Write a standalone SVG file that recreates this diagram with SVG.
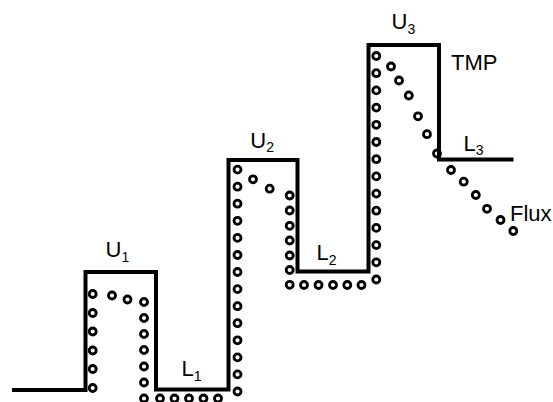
<svg xmlns="http://www.w3.org/2000/svg" width="553" height="402" viewBox="0 0 553 402">
<style>
.line{fill:none;stroke:#000;stroke-width:4;stroke-linejoin:miter;stroke-linecap:butt}
.p{fill:none;stroke:#000;stroke-width:2.8}
.t{font-family:"Liberation Sans",Arial,sans-serif;font-size:22px;fill:#000}
.s{font-size:14px}
</style>
<rect width="553" height="402" fill="#fff"/>
<g id="profile">
<path class="line" d="M12 390 H85.5 V272 H156 V389.5 H228.5 V160 H297.5 V271.5 H368.5 V45 H439 V159.5 H513.5"/>
</g>
<g id="particles">
<!-- U1 -->
<circle class="p" cx="92.7" cy="294" r="3.5"/>
<circle class="p" cx="92.7" cy="313" r="3.5"/>
<circle class="p" cx="92.7" cy="331.5" r="3.5"/>
<circle class="p" cx="92.7" cy="350.5" r="3.5"/>
<circle class="p" cx="92.7" cy="369" r="3.5"/>
<circle class="p" cx="92.7" cy="388" r="3.5"/>
<circle class="p" cx="112" cy="295.5" r="3.5"/>
<circle class="p" cx="127.5" cy="299.5" r="3.5"/>
<circle class="p" cx="144" cy="302" r="3.5"/>
<circle class="p" cx="144" cy="318" r="3.5"/>
<circle class="p" cx="144" cy="334" r="3.5"/>
<circle class="p" cx="144" cy="350" r="3.5"/>
<circle class="p" cx="144" cy="366.5" r="3.5"/>
<circle class="p" cx="144" cy="382.5" r="3.5"/>
<circle class="p" cx="144" cy="398.5" r="3.5"/>
<!-- L1 -->
<circle class="p" cx="160" cy="398.5" r="3.5"/>
<circle class="p" cx="174.5" cy="398.5" r="3.5"/>
<circle class="p" cx="189" cy="398.5" r="3.5"/>
<circle class="p" cx="203.5" cy="398.5" r="3.5"/>
<circle class="p" cx="218" cy="398.5" r="3.5"/>
<!-- U2 -->
<circle class="p" cx="237.5" cy="391.5" r="3.5"/>
<circle class="p" cx="237.5" cy="374.4" r="3.5"/>
<circle class="p" cx="237.5" cy="357.4" r="3.5"/>
<circle class="p" cx="237.5" cy="340.3" r="3.5"/>
<circle class="p" cx="237.5" cy="323.2" r="3.5"/>
<circle class="p" cx="237.5" cy="306.2" r="3.5"/>
<circle class="p" cx="237.5" cy="289.1" r="3.5"/>
<circle class="p" cx="237.5" cy="272" r="3.5"/>
<circle class="p" cx="237.5" cy="255" r="3.5"/>
<circle class="p" cx="237.5" cy="237.9" r="3.5"/>
<circle class="p" cx="237.5" cy="220.8" r="3.5"/>
<circle class="p" cx="237.5" cy="203.7" r="3.5"/>
<circle class="p" cx="237.5" cy="186.7" r="3.5"/>
<circle class="p" cx="237.5" cy="169.6" r="3.5"/>
<circle class="p" cx="253" cy="179.3" r="3.5"/>
<circle class="p" cx="269.7" cy="188.7" r="3.5"/>
<circle class="p" cx="289.7" cy="195.5" r="3.5"/>
<circle class="p" cx="289.7" cy="210.5" r="3.5"/>
<circle class="p" cx="289.7" cy="225.8" r="3.5"/>
<circle class="p" cx="289.7" cy="240.5" r="3.5"/>
<circle class="p" cx="289.7" cy="255.5" r="3.5"/>
<circle class="p" cx="289.7" cy="270" r="3.5"/>
<circle class="p" cx="289.7" cy="284.8" r="3.5"/>
<!-- L2 -->
<circle class="p" cx="304" cy="285" r="3.5"/>
<circle class="p" cx="318.5" cy="285" r="3.5"/>
<circle class="p" cx="333" cy="285" r="3.5"/>
<circle class="p" cx="347.3" cy="285" r="3.5"/>
<circle class="p" cx="361.5" cy="285" r="3.5"/>
<!-- U3 -->
<circle class="p" cx="376.3" cy="279.5" r="3.5"/>
<circle class="p" cx="376.3" cy="262.3" r="3.5"/>
<circle class="p" cx="376.3" cy="245.1" r="3.5"/>
<circle class="p" cx="376.3" cy="227.9" r="3.5"/>
<circle class="p" cx="376.3" cy="210.7" r="3.5"/>
<circle class="p" cx="376.3" cy="193.6" r="3.5"/>
<circle class="p" cx="376.3" cy="176.4" r="3.5"/>
<circle class="p" cx="376.3" cy="159.2" r="3.5"/>
<circle class="p" cx="376.3" cy="142" r="3.5"/>
<circle class="p" cx="376.3" cy="124.8" r="3.5"/>
<circle class="p" cx="376.3" cy="107.6" r="3.5"/>
<circle class="p" cx="376.3" cy="90.4" r="3.5"/>
<circle class="p" cx="376.3" cy="73.2" r="3.5"/>
<circle class="p" cx="376.3" cy="56" r="3.5"/>
<circle class="p" cx="391" cy="66.5" r="3.5"/>
<circle class="p" cx="399" cy="80.5" r="3.5"/>
<circle class="p" cx="408.8" cy="95.5" r="3.5"/>
<circle class="p" cx="418" cy="116.3" r="3.5"/>
<circle class="p" cx="427" cy="134.2" r="3.5"/>
<circle class="p" cx="437" cy="153.5" r="3.5"/>
<circle class="p" cx="451" cy="170" r="3.5"/>
<circle class="p" cx="463.7" cy="181.7" r="3.5"/>
<circle class="p" cx="475.8" cy="195" r="3.5"/>
<circle class="p" cx="487" cy="208.8" r="3.5"/>
<circle class="p" cx="500.5" cy="220" r="3.5"/>
<circle class="p" cx="513.3" cy="231" r="3.5"/>
</g>
<g id="labels">
<text class="t" x="105.5" y="257">U<tspan class="s" dy="5">1</tspan></text>
<text class="t" x="181.4" y="375.5">L<tspan class="s" dy="5">1</tspan></text>
<text class="t" x="250.3" y="147.5">U<tspan class="s" dy="4">2</tspan></text>
<text class="t" x="316.5" y="259.5">L<tspan class="s" dy="5">2</tspan></text>
<text class="t" x="391.5" y="29">U<tspan class="s" dy="5">3</tspan></text>
<text class="t" x="451" y="70">TMP</text>
<text class="t" x="463.5" y="150.5">L<tspan class="s" dy="4">3</tspan></text>
<text class="t" x="510" y="221">Flux</text>
</g>
</svg>
